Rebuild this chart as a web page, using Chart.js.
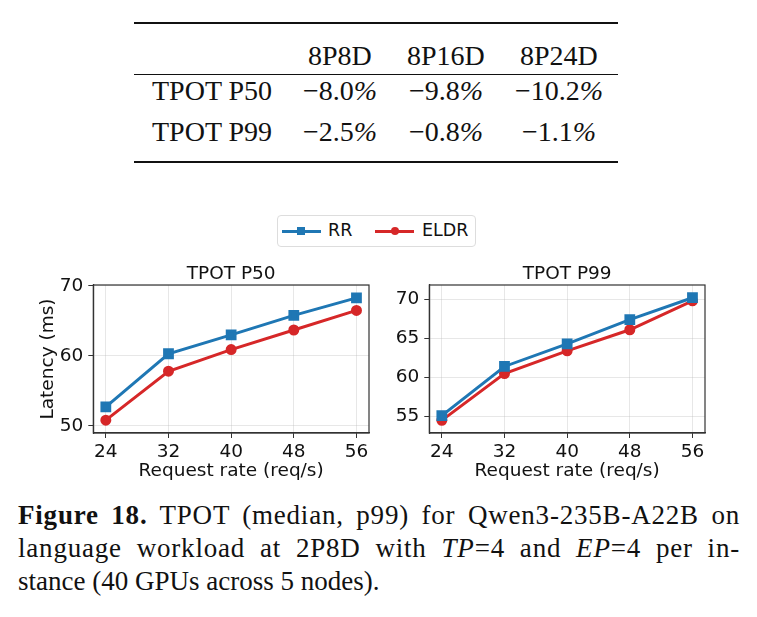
<!DOCTYPE html>
<html>
<head>
<meta charset="utf-8">
<script src="https://cdn.jsdelivr.net/npm/chart.js@4.4.1/dist/chart.umd.min.js"></script>
<style>
  body { margin: 0; background: #fff; }
  #page { position: relative; width: 757px; height: 617px; overflow: hidden; font-family: "Liberation Serif", serif; color: #111; }
  .rule { position: absolute; left: 134px; width: 484px; background: #111; }
  .cell { position: absolute; font-size: 28px; line-height: 28px; white-space: nowrap; }
  .legend { position: absolute; left: 277px; top: 215px; width: 197px; height: 30px; border: 1px solid #ddd; border-radius: 4px;
            font-family: "DejaVu Sans", sans-serif; font-size: 17.5px; }
  .legend span { position: absolute; }
  .caption { position: absolute; left: 18px; width: 722px; font-size: 27px; line-height: 33px; text-align: justify; text-align-last: justify; white-space: nowrap; letter-spacing: 0.8px; }
  canvas { position: absolute; }
</style>
</head>
<body>
<div id="page">
  <div class="rule" style="top:22px;height:2px"></div>
  <div class="rule" style="top:74px;height:1px"></div>
  <div class="rule" style="top:161px;height:2px"></div>
  <div id="table"></div>

  <div class="legend">
    <span style="left:4px;top:14px;width:39px;height:3px;background:#1f77b4"></span>
    <span style="left:19px;top:11px;width:8px;height:8px;background:#1f77b4"></span>
    <span style="left:50px;top:4px">RR</span>
    <span style="left:97px;top:14px;width:39px;height:3px;background:#d62728"></span>
    <span style="left:113px;top:11px;width:8px;height:8px;border-radius:50%;background:#d62728"></span>
    <span style="left:144px;top:4px">ELDR</span>
  </div>

  <canvas id="p50" width="380" height="240" style="left:0;top:255px"></canvas>
  <canvas id="p99" width="340" height="240" style="left:380px;top:255px"></canvas>

  <div class="caption" style="top:499px"><b>Figure 18.</b> TPOT (median, p99) for Qwen3-235B-A22B on</div>
  <div class="caption" style="top:532px">language workload at 2P8D with <i>TP</i>=4 and <i>EP</i>=4 per in-</div>
  <div class="caption" style="top:565px;text-align-last:left;letter-spacing:0">stance (40 GPUs across 5 nodes).</div>
</div>
<script>
// table data
const tableCols = ['8P8D', '8P16D', '8P24D'];
const tableRows = ['TPOT P50', 'TPOT P99'];
const tableVals = [['\u22128.0%', '\u22129.8%', '\u221210.2%'],
                   ['\u22122.5%', '\u22120.8%', '\u22121.1%']];

// chart data
const rates = [24, 32, 40, 48, 56];
const p50RR = [52.7, 60.3, 63.0, 65.8, 68.3];
const p50ELDR = [50.8, 57.8, 60.9, 63.7, 66.5];
const p99RR = [55.1, 61.4, 64.3, 67.4, 70.2];
const p99ELDR = [54.5, 60.5, 63.4, 66.1, 69.8];
const p50Ticks = [50, 60, 70];
const p99Ticks = [55, 60, 65, 70];

const colCenters = [340, 446, 559];
const rowTops = [77, 118];

function buildTable() {
  const t = document.getElementById('table');
  tableCols.forEach((c, i) => {
    const d = document.createElement('div');
    d.className = 'cell';
    d.textContent = c;
    d.style.top = '42px';
    t.appendChild(d);
    d.style.left = (colCenters[i] - d.offsetWidth / 2) + 'px';
  });
  tableRows.forEach((r, j) => {
    const d = document.createElement('div');
    d.className = 'cell';
    d.textContent = r;
    d.style.top = rowTops[j] + 'px';
    d.style.left = '152px';
    t.appendChild(d);
    tableVals[j].forEach((v, i) => {
      const e = document.createElement('div');
      e.className = 'cell';
      e.innerHTML = v.replace('%', '<i>%</i>');
      e.style.top = rowTops[j] + 'px';
      t.appendChild(e);
      e.style.left = (colCenters[i] - e.offsetWidth / 2) + 'px';
    });
  });
}

const font = { family: 'DejaVu Sans', size: 18.5, weight: 'normal' };
const gridColor = 'rgba(176,176,176,0.3)';

// title centred over the plot area, like matplotlib does
const plotTitle = {
  id: 'plotTitle',
  afterDraw(chart, args, opts) {
    const { ctx, chartArea: a } = chart;
    ctx.save();
    ctx.font = font.size + 'px "' + font.family + '"';
    ctx.fillStyle = '#111';
    ctx.textAlign = 'center';
    ctx.textBaseline = 'middle';
    ctx.fillText(opts.text, (a.left + a.right) / 2, a.top - 11);
    ctx.restore();
  }
};

const frame = {
  id: 'frame',
  afterDraw(chart) {
    const { ctx, chartArea: a } = chart;
    ctx.save();
    ctx.strokeStyle = '#333';
    ctx.lineWidth = 1.2;
    ctx.strokeRect(a.left, a.top, a.right - a.left, a.bottom - a.top);
    ctx.restore();
  }
};

function makeChart(id, title, rr, eldr, yTicks, yMin, yMax, yWidth, padRight, yTitle) {
  const pts = arr => arr.map((v, i) => ({ x: rates[i], y: v }));
  return new Chart(document.getElementById(id), {
    type: 'line',
    data: {
      datasets: [
        { label: 'RR', data: pts(rr), borderColor: '#1f77b4', backgroundColor: '#1f77b4',
          borderWidth: 3, pointStyle: 'rect', pointRadius: 5.5, pointHoverRadius: 5.5 },
        { label: 'ELDR', data: pts(eldr), borderColor: '#d62728', backgroundColor: '#d62728',
          borderWidth: 3, pointStyle: 'circle', pointRadius: 4, pointHoverRadius: 4 }
      ]
    },
    options: {
      responsive: false,
      animation: false,
      layout: { padding: { left: 0, right: padRight, top: 30, bottom: 0 } },
      plugins: {
        legend: { display: false },
        tooltip: { enabled: false },
        title: { display: false },
        plotTitle: { text: title }
      },
      scales: {
        x: {
          type: 'linear', min: 22.4, max: 57.6,
          afterBuildTicks: s => { s.ticks = rates.map(v => ({ value: v })); },
          afterFit: s => { s.height = 62; },
          ticks: { color: '#111', font: font, padding: 3, maxRotation: 0 },
          grid: { color: gridColor, tickColor: '#333', tickLength: 5 },
          border: { color: '#333', width: 1.2 },
          title: { display: true, text: 'Request rate (req/s)', color: '#111', font: font, padding: { top: 0, bottom: 13 } }
        },
        y: {
          min: yMin, max: yMax,
          afterBuildTicks: s => { s.ticks = yTicks.map(v => ({ value: v })); },
          afterFit: s => { s.width = yWidth; },
          ticks: { color: '#111', font: font, padding: 5 },
          grid: { color: gridColor, tickColor: '#333', tickLength: 5 },
          border: { color: '#333', width: 1.2 },
          title: { display: !!yTitle, text: yTitle || '', color: '#111', font: font, padding: { top: 36.9, bottom: 0 } }
        }
      }
    },
    plugins: [plotTitle, frame]
  });
}

document.addEventListener('DOMContentLoaded', function () {
  buildTable();
  makeChart('p50', 'TPOT P50', p50RR, p50ELDR, p50Ticks, 48.96, 70.14, 93.3, 11, 'Latency (ms)');
  makeChart('p99', 'TPOT P99', p99RR, p99ELDR, p99Ticks, 52.88, 71.83, 49.3, 15, '');
});
</script>
</body>
</html>
